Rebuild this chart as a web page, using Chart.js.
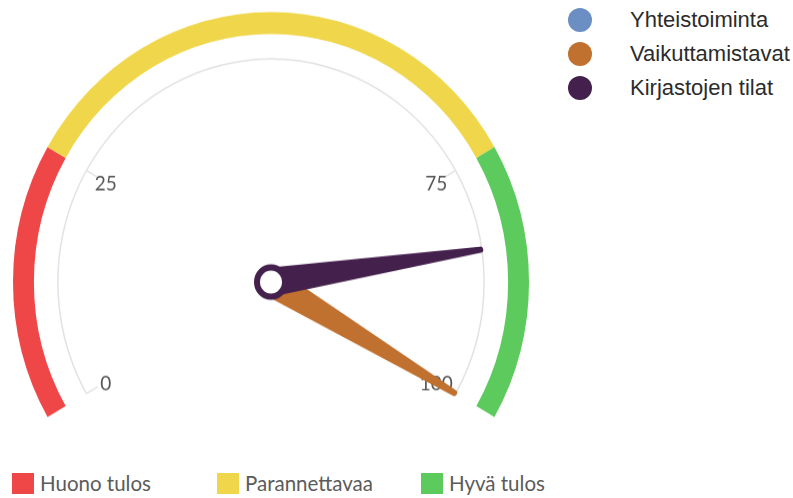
<!DOCTYPE html>
<html>
<head>
<meta charset="utf-8">
<script src="https://cdn.jsdelivr.net/npm/chart.js@4.4.0/dist/chart.umd.min.js"></script>
<style>
  html, body { margin: 0; padding: 0; background: #fff; }
  body { width: 793px; height: 498px; position: relative; overflow: hidden; }
  #gaugeWrap { position: absolute; left: 0; top: 0; width: 545px; height: 440px;
    transform: scaleY(1.0465); transform-origin: 0 0; }
  .series-legend { position: absolute; left: 568px; top: 3px; font-family: "Liberation Sans", Arial, sans-serif;
    font-size: 22px; color: #2b2b2b; }
  .series-legend .row { height: 34px; display: flex; align-items: center; }
  .series-legend .dot { width: 24px; height: 24px; border-radius: 50%; margin-right: 38px; }
  .band-legend { position: absolute; left: 0; top: 472px; font-family: Lato, sans-serif;
    font-size: 20.5px; color: #5b5b5b; }
  .band-legend .item { position: absolute; top: 0; display: flex; align-items: center; white-space: nowrap; height: 22px; }
  .band-legend .sq { width: 22px; height: 21px; margin-right: 6px; }
</style>
</head>
<body>
<div id="gaugeWrap"><canvas id="gauge" width="545" height="440"></canvas></div>
<div class="series-legend" id="seriesLegend"></div>
<div class="band-legend" id="bandLegend"></div>
<script>
// gauge bands
const bandLabels = ['Huono tulos', 'Parannettavaa', 'Hyvä tulos'];
const bandSizes = [25, 50, 25];
const bandColors = ['#ef4647', '#f0d64a', '#5dca5d'];

// needles
const seriesNames = ['Yhteistoiminta', 'Vaikuttamistavat', 'Kirjastojen tilat'];
const seriesValues = [null, 100, 84];
const seriesColors = ['#6b8fc2', '#c0702f', '#44204c'];

// scale
const gaugeMin = 0;
const gaugeMax = 100;
const tickValues = [0, 25, 75, 100];

const needlePlugin = {
  id: 'needles',
  afterDatasetsDraw(chart) {
    const ctx = chart.ctx;
    const arcs = chart.getDatasetMeta(0).data;
    const cx = arcs[0].x, cy = arcs[0].y;
    const R = arcs[0].outerRadius;
    const a0 = arcs[0].startAngle;
    const a1 = arcs[arcs.length - 1].endAngle;
    const angleOf = v => a0 + (v - gaugeMin) / (gaugeMax - gaugeMin) * (a1 - a0);

    const rScale = R * 0.826;
    ctx.save();
    // thin scale arc
    ctx.strokeStyle = '#e2e2e2';
    ctx.lineWidth = 1.5;
    ctx.beginPath();
    ctx.arc(cx, cy, rScale, a0, a1);
    ctx.stroke();

    // ticks and labels
    ctx.font = '19px Lato, sans-serif';
    ctx.fillStyle = '#555';
    ctx.textAlign = 'center';
    ctx.textBaseline = 'middle';
    tickValues.forEach(v => {
      const a = angleOf(v);
      const c = Math.cos(a), s = Math.sin(a);
      ctx.beginPath();
      ctx.moveTo(cx + c * rScale, cy + s * rScale);
      ctx.lineTo(cx + c * (rScale - 13), cy + s * (rScale - 13));
      ctx.stroke();
      ctx.fillText(String(v), cx + c * (R * 0.74), cy + s * (R * 0.74) + 2);
    });

    // needles
    const len = R * 0.82;
    seriesValues.forEach((v, i) => {
      if (v === null) return;
      const a = angleOf(v);
      const c = Math.cos(a), s = Math.sin(a);
      const px = -s, py = c;
      const bw = 14, tw = 3;
      const tx = cx + c * len, ty = cy + s * len;
      ctx.fillStyle = seriesColors[i];
      ctx.beginPath();
      ctx.moveTo(cx + px * bw, cy + py * bw);
      ctx.lineTo(tx + px * tw, ty + py * tw);
      ctx.arc(tx, ty, tw, a + Math.PI / 2, a - Math.PI / 2, true);
      ctx.lineTo(cx - px * bw, cy - py * bw);
      ctx.closePath();
      ctx.fill();
    });

    // hub
    ctx.beginPath();
    ctx.arc(cx, cy, 14, 0, Math.PI * 2);
    ctx.fillStyle = '#fff';
    ctx.fill();
    ctx.lineWidth = 6;
    ctx.strokeStyle = seriesColors[2];
    ctx.stroke();
    ctx.restore();
  }
};

new Chart(document.getElementById('gauge'), {
  type: 'doughnut',
  data: {
    labels: bandLabels,
    datasets: [{
      data: bandSizes,
      backgroundColor: bandColors,
      borderWidth: 0
    }]
  },
  options: {
    responsive: false,
    animation: false,
    rotation: -120,
    circumference: 240,
    cutout: '91.9%',
    layout: { padding: { left: 13, right: 16, top: 11.5, bottom: 41.5 } },
    plugins: {
      legend: { display: false },
      tooltip: { enabled: false }
    }
  },
  plugins: [needlePlugin]
});

// legends
const sl = document.getElementById('seriesLegend');
seriesNames.forEach((n, i) => {
  const row = document.createElement('div');
  row.className = 'row';
  row.innerHTML = '<span class="dot" style="background:' + seriesColors[i] + '"></span><span>' + n + '</span>';
  sl.appendChild(row);
});
const bandX = [12, 217, 421];
const bl = document.getElementById('bandLegend');
bandLabels.forEach((n, i) => {
  const it = document.createElement('div');
  it.className = 'item';
  it.style.left = bandX[i] + 'px';
  it.innerHTML = '<span class="sq" style="background:' + bandColors[i] + '"></span><span>' + n + '</span>';
  bl.appendChild(it);
});
</script>
</body>
</html>
